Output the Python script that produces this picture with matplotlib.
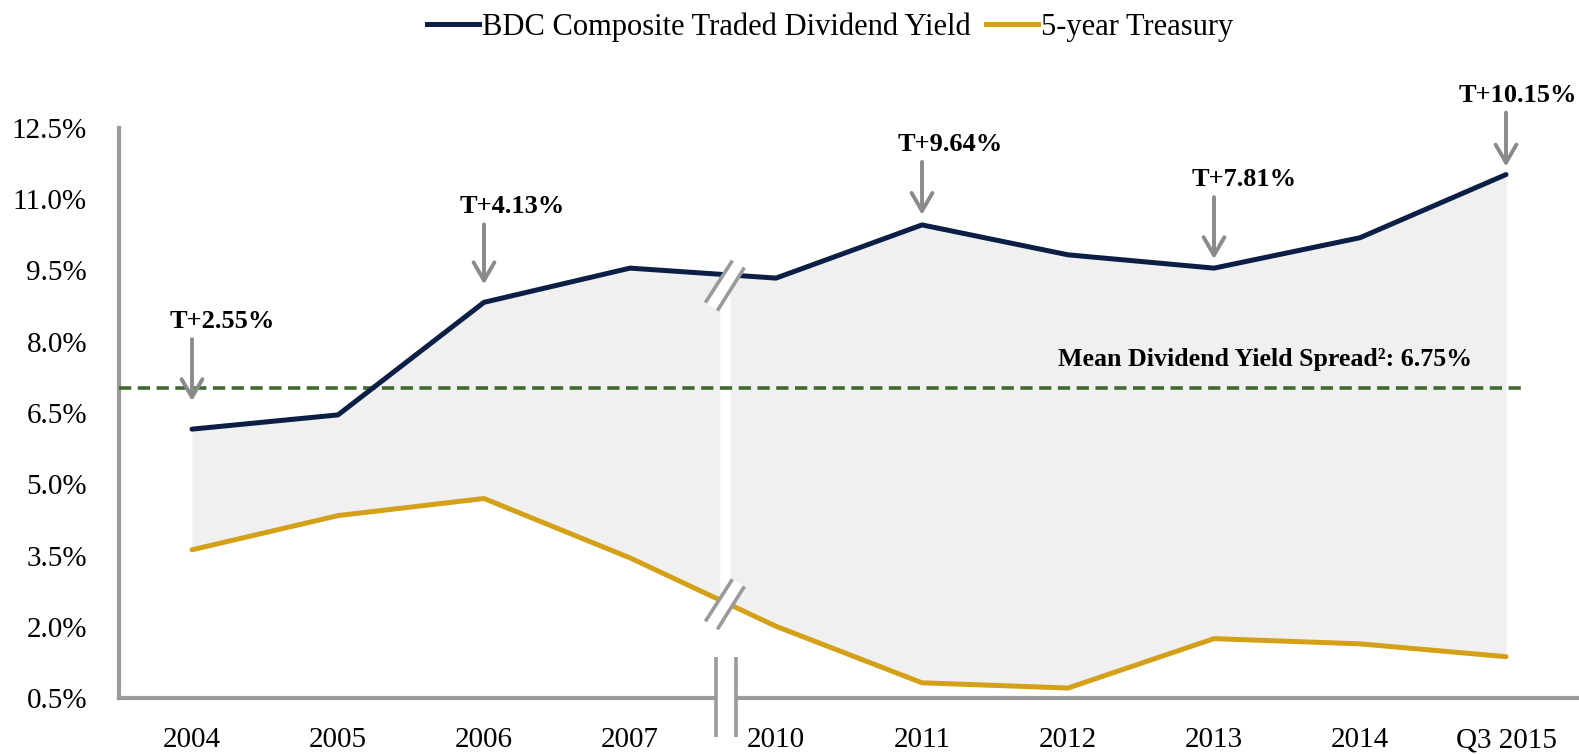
import numpy as np
import matplotlib.pyplot as plt
from matplotlib.lines import Line2D
from matplotlib.patches import Polygon

# ---------------- data ----------------
years = ["2004", "2005", "2006", "2007", "2010", "2011", "2012", "2013", "2014", "Q3 2015"]
bdc_yield = [6.16, 6.46, 8.83, 9.55, 9.34, 10.46, 9.83, 9.55, 10.19, 11.52]
treasury_5y = [3.62, 4.34, 4.70, 3.45, 2.01, 0.82, 0.71, 1.75, 1.64, 1.37]

spread_idx = [0, 2, 5, 7, 9]
spread_labels = ["T+2.55%", "T+4.13%", "T+9.64%", "T+7.81%", "T+10.15%"]

mean_level = 7.03
mean_label = "Mean Dividend Yield Spread\u00b2: 6.75%"

yticks = np.arange(0.5, 12.6, 1.5)
ytick_labels = [f"{v:.1f}%" for v in yticks]

# ---------------- style ----------------
NAVY = "#0b1e45"
GOLD = "#d4a017"
AXIS_GRAY = "#9a9a9a"
ARROW_GRAY = "#8a8a8a"
FILL = "#f0f0f0"
GREEN = "#3f6a2e"
FONT = "Liberation Serif"

plt.rcParams["font.family"] = [FONT, "DejaVu Serif"]

W, H = 1579, 754
fig = plt.figure(figsize=(W / 100, H / 100), dpi=100)
ax_l, ax_b, ax_w, ax_h = 119 / W, 1 - 698 / H, 1460 / W, 570 / H
ax = fig.add_axes([ax_l, ax_b, ax_w, ax_h])

x = np.arange(len(years))
xlim = (-0.5, 9.5)
ylim = (0.5, 12.5)
ax.set_xlim(*xlim)
ax.set_ylim(*ylim)

# pixels per data unit (to place decorations in pixel offsets)
sx = W * ax_w / (xlim[1] - xlim[0])
sy = H * ax_h / (ylim[1] - ylim[0])


def px(xc, yc, dx, dy):
    """data point shifted by dx, dy pixels (dy positive = down)"""
    return xc + dx / sx, yc - dy / sy


# axis break position (between 2007 and 2010)
xb = 3.65
gap = 5 / sx

# shaded area between the two series, split at the break
for lo, hi in [(0, xb - gap), (xb + gap, 9)]:
    xs = np.concatenate([[lo], x[(x > lo) & (x < hi)], [hi]])
    ax.fill_between(xs, np.interp(xs, x, treasury_5y), np.interp(xs, x, bdc_yield),
                    color=FILL, lw=0, zorder=1)

ax.plot(x, bdc_yield, color=NAVY, lw=3.6, solid_capstyle="round", zorder=4)
ax.plot(x, treasury_5y, color=GOLD, lw=3.6, solid_capstyle="round", zorder=4)

# mean spread line
ax.plot([xlim[0], 9.1], [mean_level, mean_level], color=GREEN, lw=2.6,
        ls=(0, (3.4, 1.8)), zorder=3, clip_on=False)
ax.text(8.77, mean_level + 0.36, mean_label, ha="right", va="bottom",
        fontsize=18.6, fontweight="bold", zorder=6)


# break slashes on each line
def slash(series, shift):
    yc = np.interp(xb, x, series)
    cx, cy = px(xb, yc, 0, shift)
    s1 = [px(cx, cy, -19.5, 17), px(cx, cy, 7.5, -25)]
    s2 = [px(cx, cy, -7.5, 25), px(cx, cy, 19.5, -18)]
    ax.add_patch(Polygon([s1[0], s1[1], s2[1], s2[0]], closed=True, fc="white",
                         ec="none", zorder=5))
    for a, b in (s1, s2):
        ax.plot([a[0], b[0]], [a[1], b[1]], color=AXIS_GRAY, lw=2.6, zorder=6,
                solid_capstyle="butt")


slash(bdc_yield, 11)
slash(treasury_5y, 2)

# spines
for s in ["top", "right"]:
    ax.spines[s].set_visible(False)
for s in ["left", "bottom"]:
    ax.spines[s].set_color(AXIS_GRAY)
    ax.spines[s].set_linewidth(3)

# x-axis break
bl = px(xb, ylim[0], -9, 0)[0]
br = px(xb, ylim[0], 11, 0)[0]
ax.add_patch(plt.Rectangle((bl, px(0, ylim[0], 0, 4)[1]), br - bl, 8 / sy,
                           fc="white", ec="none", zorder=6, clip_on=False))
for bx in (bl, br):
    ax.plot([bx, bx], [px(0, ylim[0], 0, -41)[1], px(0, ylim[0], 0, 39)[1]],
            color=AXIS_GRAY, lw=2.6, zorder=7, clip_on=False, solid_capstyle="butt")

# ticks
ax.set_xticks(x)
ax.set_xticklabels(years)
ax.set_yticks(yticks)
ax.set_yticklabels(ytick_labels)
ax.tick_params(axis="both", length=0, labelsize=21)
ax.tick_params(axis="x", pad=21)
ax.tick_params(axis="y", pad=23)

# spread annotations: (tip gap px, arrow length px, text dx px)
arrow_gap = [28, 18, 10, 9, 8]
arrow_len = [62, 60, 53, 62, 54]
text_dx = [30, 28, 28, 30, 12]
for i, lab, g, L, tdx in zip(spread_idx, spread_labels, arrow_gap, arrow_len, text_dx):
    tip = px(x[i], bdc_yield[i], 0, -g)
    start = px(x[i], bdc_yield[i], 0, -(g + L))
    ax.annotate("", xy=tip, xytext=start,
                arrowprops=dict(arrowstyle="->,head_length=1.3,head_width=0.75",
                                color=ARROW_GRAY, lw=2.8, shrinkA=0, shrinkB=0),
                zorder=6, annotation_clip=False)
    ax.text(*px(x[i], bdc_yield[i], tdx, -(g + L + 6)), lab, ha="center", va="bottom",
            fontsize=19, fontweight="bold", zorder=6, clip_on=False)

# legend
handles = [Line2D([], [], color=NAVY, lw=3.6),
           Line2D([], [], color=GOLD, lw=3.6)]
fig.legend(handles, ["BDC Composite Traded Dividend Yield", "5-year Treasury"],
           loc="center", bbox_to_anchor=(0.526, 1 - 27 / H), ncol=2, frameon=False,
           fontsize=22, handlelength=1.7, handletextpad=0.1, columnspacing=0.5)

fig.savefig("out.png", dpi=100)
